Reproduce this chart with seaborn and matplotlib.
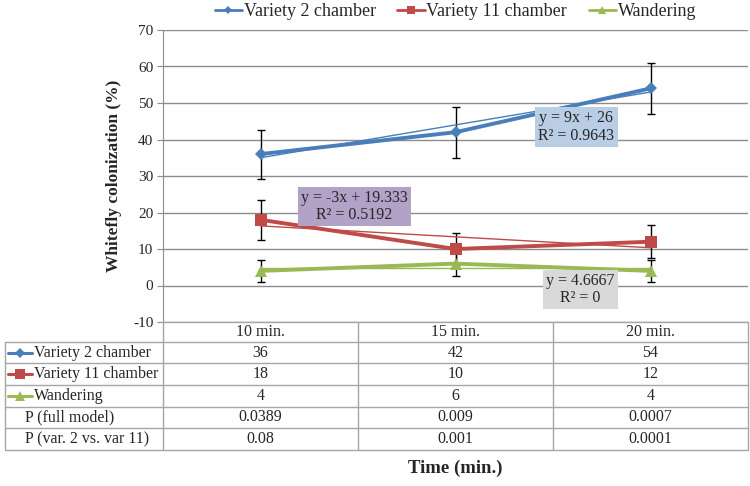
import numpy as np
import pandas as pd
import matplotlib
matplotlib.use("Agg")
import matplotlib.pyplot as plt
import seaborn as sns
from matplotlib.lines import Line2D

# data
times = ["10 min.", "15 min.", "20 min."]
series = ["Variety 2 chamber", "Variety 11 chamber", "Wandering"]
var2 = [36, 42, 54]
var11 = [18, 10, 12]
wander = [4, 6, 4]
err_var2 = [6.7, 7, 7]
err_var11 = [5.4, 4.3, 4.6]
err_wander = [3, 3.4, 3]
p_full = ["0.0389", "0.009", "0.0007"]
p_var = ["0.08", "0.001", "0.0001"]
fits = [(9, 26, "y = 9x + 26\nR² = 0.9643"),
        (-3, 19.333, "y = -3x + 19.333\nR² = 0.5192"),
        (0, 4.6667, "y = 4.6667\nR² = 0")]

colors = ["#4A7EBB", "#BE4B48", "#98B954"]
markers = ["D", "s", "^"]
msizes = [6, 8, 8]

sns.set_style("white")
plt.rcParams['font.family'] = ['Liberation Serif', 'DejaVu Serif']
plt.rcParams['axes.unicode_minus'] = False

x = np.arange(len(times))
df = pd.DataFrame({
    "t": np.tile(x, 3),
    "val": var2 + var11 + wander,
    "series": np.repeat(series, 3),
})

fig = plt.figure(figsize=(7.5, 4.86), dpi=100)
ax = fig.add_axes([163 / 750, 1 - 322 / 486, 585 / 750, 292 / 486])

# gridlines
ax.set_ylim(-10, 70)
ax.set_xlim(-0.5, 2.5)
ax.set_yticks(range(-10, 71, 10))
ax.yaxis.grid(True, color="#8c8c8c", lw=1.0)
ax.set_axisbelow(True)
for s in ["top", "right", "bottom"]:
    ax.spines[s].set_visible(False)
ax.spines["left"].set_color("#8c8c8c")
ax.tick_params(axis="y", left=True, length=4, color="#8c8c8c", labelsize=11, pad=3)
ax.set_xticks([])

# error bars
for vals, errs in zip([var2, var11, wander], [err_var2, err_var11, err_wander]):
    ax.errorbar(x, vals, yerr=errs, fmt="none", ecolor="black", elinewidth=1,
                capsize=3, capthick=1, zorder=2)

# trend lines
for (m, b, _), c in zip(fits, colors):
    ax.plot(x, m * (x + 1) + b, color=c, lw=1.0, zorder=3)

sns.lineplot(data=df, x="t", y="val", hue="series", style="series",
             palette=colors, markers=markers, dashes=False, lw=2.8,
             markersize=8, markeredgewidth=0, ax=ax, legend=False, zorder=4)
for ln, ms in zip(ax.lines[-3:], msizes):
    ln.set_markersize(ms)

ax.set_xlabel("")
ax.set_ylabel("Whitefly colonization (%)", fontsize=12.5, fontweight="bold", labelpad=8)

# equation boxes
box_pos = [(1.62, 43.4, "#B9CDE5"), (0.48, 21.6, "#B3A2C7"), (1.64, -1.1, "#D9D9D9")]
for (_, _, txt), (bx, by, bc) in zip(fits, box_pos):
    ax.text(bx, by, txt, ha="center", va="center", fontsize=11.5, linespacing=1.1,
            bbox=dict(boxstyle="square,pad=0.2", fc=bc, ec="none"), zorder=6)

# legend on top
handles = [Line2D([], [], color=c, marker=mk, markersize=ms - 2, lw=2, markeredgewidth=0)
           for c, mk, ms in zip(colors, markers, msizes)]
ax.legend(handles, series, loc="center", bbox_to_anchor=(0.5, 1.062), ncol=3,
          frameon=False, fontsize=13, handlelength=1.5, handletextpad=0.1,
          columnspacing=1.2, borderpad=0)

# data table below the plot (drawn in figure pixels)
def fx(px):
    return px / 750

def fy(py):
    return 1 - py / 486

lc = "#A6A6A6"
row_tops = [322, 342, 363.5, 385, 406.5, 428, 450]
cols = [163, 358, 553, 748]
for i, yy in enumerate(row_tops):
    x0 = 163 if i == 0 else 5
    fig.add_artist(Line2D([fx(x0), fx(748)], [fy(yy), fy(yy)], color=lc, lw=1))
for xx in cols:
    fig.add_artist(Line2D([fx(xx), fx(xx)], [fy(322), fy(450)], color=lc, lw=1))
fig.add_artist(Line2D([fx(5), fx(5)], [fy(342), fy(450)], color=lc, lw=1))

cell_rows = [times, [str(v) for v in var2], [str(v) for v in var11],
             [str(v) for v in wander], p_full, p_var]
row_labels = [None] + series + ["P (full model)", "P (var. 2 vs. var 11)"]
for r in range(6):
    ymid = (row_tops[r] + row_tops[r + 1]) / 2
    for c in range(3):
        fig.text(fx((cols[c] + cols[c + 1]) / 2), fy(ymid), cell_rows[r][c],
                 ha="center", va="center", fontsize=11.5)
    if row_labels[r] is None:
        continue
    if 1 <= r <= 3:
        k = r - 1
        fig.add_artist(Line2D([fx(8), fx(32)], [fy(ymid), fy(ymid)], color=colors[k], lw=2.2))
        fig.add_artist(Line2D([fx(20)], [fy(ymid)], color=colors[k], marker=markers[k],
                              markersize=msizes[k] - 1, markeredgewidth=0, lw=0))
        fig.text(fx(34), fy(ymid), row_labels[r], ha="left", va="center", fontsize=11.5)
    else:
        fig.text(fx(25), fy(ymid), row_labels[r], ha="left", va="center", fontsize=11.5)

fig.text(fx(455), fy(468), "Time (min.)", ha="center", va="center",
         fontsize=13.5, fontweight="bold")

fig.savefig("out.png", dpi=100)
